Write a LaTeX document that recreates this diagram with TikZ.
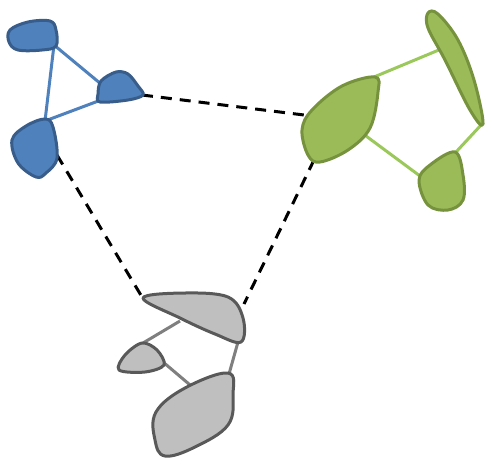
\documentclass[tikz,border=0pt]{standalone}
\begin{document}
\begin{tikzpicture}[x=1pt,y=-1pt,
  blueblob/.style={fill={rgb,255:red,79;green,129;blue,189}, draw={rgb,255:red,56;green,93;blue,138}, line width=3pt, line join=round},
  greenblob/.style={fill={rgb,255:red,155;green,187;blue,89}, draw={rgb,255:red,118;green,146;blue,60}, line width=3pt, line join=round},
  grayblob/.style={fill={rgb,255:red,191;green,191;blue,191}, draw={rgb,255:red,89;green,89;blue,89}, line width=3pt, line join=round},
  bluelink/.style={draw={rgb,255:red,79;green,129;blue,189}, line width=3pt},
  greenlink/.style={draw={rgb,255:red,155;green,200;blue,90}, line width=3pt},
  graylink/.style={draw={rgb,255:red,127;green,127;blue,127}, line width=3pt},
  bridge/.style={draw=black, line width=3pt, dash pattern=on 11pt off 8pt}]
\useasboundingbox (0,0) rectangle (486,463);

% link end points
\coordinate (b1) at (54,45);
\coordinate (b2l) at (101,84);
\coordinate (b2b) at (101,100);
\coordinate (b2r) at (142,95);
\coordinate (b3t) at (45,121);
\coordinate (b3r) at (57,155);
\coordinate (g1t) at (374,77);
\coordinate (g1l) at (304,115);
\coordinate (g1b) at (314,160);
\coordinate (g1r) at (366,136);
\coordinate (g2) at (446,47);
\coordinate (g2b) at (482,124);
\coordinate (g3l) at (420,176);
\coordinate (g3t) at (456,152);
\coordinate (k1l) at (142,297);
\coordinate (k1r) at (244,304);
\coordinate (k1m) at (180,321);
\coordinate (k1b) at (238,342);
\coordinate (k2t) at (143,343);
\coordinate (k2r) at (163,362);
\coordinate (k3t) at (196,390);
\coordinate (k3r) at (229,374);

% bridges between the three groups
\draw[bridge] (b2r) -- (g1l);
\draw[bridge] (b3r) -- (k1l);
\draw[bridge] (g1b) -- (k1r);

% links inside each group
\draw[bluelink] (b1) -- (b2l);
\draw[bluelink] (b1) -- (b3t);
\draw[bluelink] (b3t) -- (b2b);
\draw[greenlink] (g1t) -- (g2);
\draw[greenlink] (g1r) -- (g3l);
\draw[greenlink] (g2b) -- (g3t);
\draw[graylink] (k1m) -- (k2t);
\draw[graylink] (k2r) -- (k3t);
\draw[graylink] (k1b) -- (k3r);

% blue blobs
\draw[blueblob] plot[smooth cycle, tension=0.6] coordinates {(10,30) (28,22) (50,21) (56,30) (56,46) (42,50) (18,50) (9,42)};
\draw[blueblob] plot[smooth cycle, tension=0.55] coordinates {(98,94) (101,81) (116,72) (128,74) (138,86) (143,95) (128,100) (100,102)};
\draw[blueblob] plot[smooth cycle, tension=0.6] coordinates {(12,140) (26,126) (45,119) (53,127) (57,158) (46,173) (36,177) (18,163)};

% green blobs
\draw[greenblob] plot[smooth cycle, tension=0.6] coordinates {(302,130) (312,110) (342,86) (375,77) (378,92) (370,128) (348,150) (320,162) (308,155)};
\draw[greenblob] plot[smooth cycle, tension=0.6] coordinates {(428,13) (438,14) (458,40) (474,80) (483,124) (470,110) (445,60) (428,28)};
\draw[greenblob] plot[smooth cycle, tension=0.6] coordinates {(419,180) (430,165) (455,152) (463,175) (463,200) (448,210) (428,205)};

% gray blobs
\draw[grayblob] plot[smooth cycle, tension=0.6] coordinates {(143,298) (185,293) (228,297) (243,318) (241,342) (215,334) (180,318)};
\draw[grayblob] plot[smooth cycle, tension=0.55] coordinates {(119,370) (125,355) (142,343) (157,350) (164,365) (145,372)};
\draw[grayblob] plot[smooth cycle, tension=0.65] coordinates {(156,412) (185,388) (228,373) (233,395) (228,425) (195,447) (165,456) (155,440)};
\end{tikzpicture}
\end{document}
